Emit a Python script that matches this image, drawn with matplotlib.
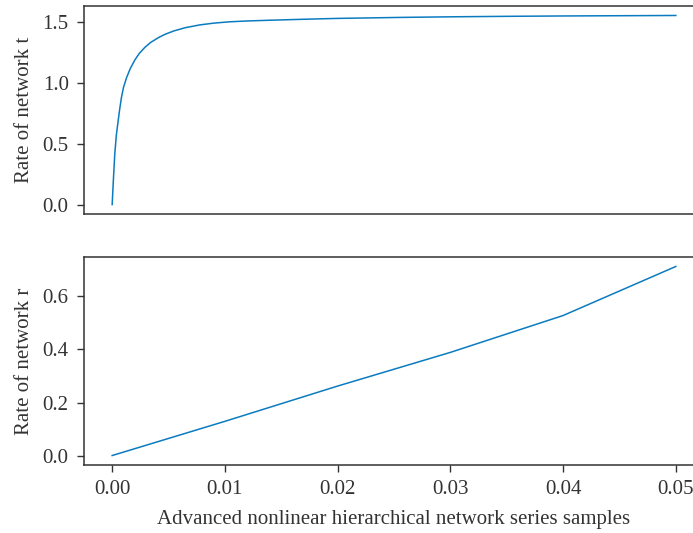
import matplotlib
matplotlib.use("Agg")
import matplotlib.pyplot as plt

# top panel: rate of network t
t_x = [0.0, 0.0001, 0.00023, 0.00037, 0.00053, 0.00067, 0.00082, 0.001, 0.00127,
       0.0016, 0.002, 0.0024, 0.0029, 0.0034, 0.0041, 0.0047, 0.0055, 0.0065,
       0.0078, 0.009, 0.0104, 0.012, 0.014, 0.017, 0.02, 0.0255, 0.03, 0.035,
       0.04, 0.045, 0.05]
t_y = [0.0, 0.19, 0.415, 0.57, 0.687, 0.785, 0.878, 0.96, 1.04,
       1.115, 1.185, 1.24, 1.29, 1.33, 1.37, 1.398, 1.426, 1.452,
       1.475, 1.489, 1.50, 1.507, 1.513, 1.521, 1.528, 1.536, 1.541, 1.545,
       1.548, 1.550, 1.552]

# bottom panel: rate of network r
r_x = [0.0, 0.01, 0.02, 0.03, 0.04, 0.05]
r_y = [0.0, 0.129, 0.262, 0.389, 0.528, 0.713]

x_ticks = [0.0, 0.01, 0.02, 0.03, 0.04, 0.05]
x_label = "Advanced nonlinear hierarchical network series samples"

line_color = "#0b7bc0"
text_color = "#333333"

plt.rcParams["font.family"] = ["Liberation Serif", "DejaVu Serif"]
plt.rcParams["font.size"] = 15

fig = plt.figure(figsize=(6.93, 5.33), dpi=100)
ax1 = fig.add_axes([0.1212, 0.5985, 0.8947, 0.3902])
ax2 = fig.add_axes([0.1212, 0.1276, 0.8947, 0.3902])

ax1.plot(t_x, t_y, color=line_color, lw=1.1)
ax2.plot(r_x, r_y, color=line_color, lw=1.1)

for ax in (ax1, ax2):
    for sp in ax.spines.values():
        sp.set_color(text_color)
        sp.set_linewidth(1.1)
    ax.tick_params(colors=text_color, labelcolor=text_color, direction="out",
                   length=5, width=1.0, pad=6)

ax1.set_yticks([0.0, 0.5, 1.0, 1.5])
ax1.set_yticklabels(["0.0", "0.5", "1.0", "1.5"])
ax1.tick_params(axis="x", bottom=False, labelbottom=False)
ax1.set_xticks(x_ticks)
ax1.set_ylabel("Rate of network t", color=text_color, labelpad=6)

ax2.set_yticks([0.0, 0.2, 0.4, 0.6])
ax2.set_yticklabels(["0.0", "0.2", "0.4", "0.6"])
ax2.set_xticks(x_ticks)
ax2.set_xticklabels([f"{v:.2f}" for v in x_ticks])
ax2.set_ylabel("Rate of network r", color=text_color, labelpad=6)
ax2.set_xlabel(x_label, color=text_color, labelpad=8)

fig.savefig("out.png", dpi=100)
